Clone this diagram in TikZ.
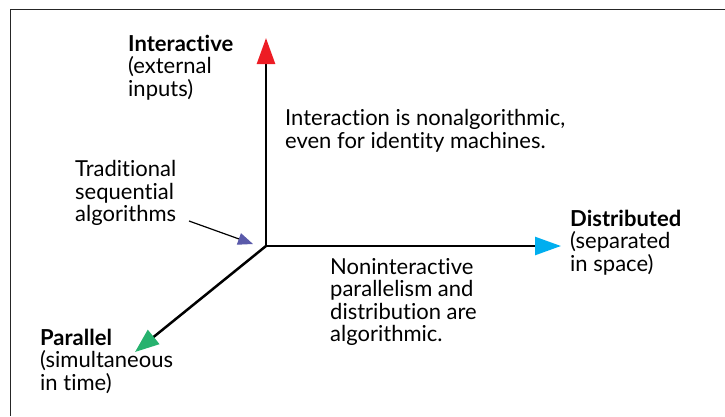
\documentclass[tikz,border=0pt]{standalone}
\usepackage{fontspec}
\setmainfont{Lato}[Ligatures=NoCommon]
\usetikzlibrary{arrows.meta}

\definecolor{tipred}{RGB}{237,28,36}
\definecolor{tipblue}{RGB}{0,174,239}
\definecolor{tipgreen}{RGB}{38,178,110}
\definecolor{tippurple}{RGB}{90,90,170}

\begin{document}
\begin{tikzpicture}[x=1pt,y=-1pt,
  lbl/.style={anchor=base west,align=left,inner sep=0pt,font=\fontsize{22}{22.5}\selectfont},
  axis/.style={line width=2.5pt}]
  \useasboundingbox (0,0) rectangle (725,416);
  \draw[line width=1.3pt,black!85] (725,9.5) -- (10.5,9.5) -- (10.5,416);

  \coordinate (origin) at (266,246);
  \coordinate (inter tip) at (266,38);
  \coordinate (dist tip) at (561,246);
  \coordinate (par tip) at (135,352);
  \coordinate (seq start) at (189,221);
  \coordinate (seq tip) at (253,244);

  \draw[axis,-{Triangle[length=26pt,width=18pt,color=tipred]}] (origin) -- (inter tip);
  \draw[axis,-{Triangle[length=26pt,width=18pt,color=tipblue]}] (origin) -- (dist tip);
  \draw[axis,-{Triangle[length=24pt,width=18pt,color=tipgreen]}] (origin) -- (par tip);
  \draw[line width=1.2pt,-{Triangle[length=15pt,width=12pt,color=tippurple]}] (seq start) -- (seq tip);

  % anchors sit on the last line of each label
  \node[lbl] (inter) at (128,96) {\textbf{Interactive}\\(external\\inputs)};
  \node[lbl] (dist) at (570,271) {\textbf{Distributed}\\(separated\\in space)};
  \node[lbl] (par) at (40,390) {\textbf{Parallel}\\(simultaneous\\in time)};
  \node[lbl] (seq) at (75,221.5) {Traditional\\sequential\\algorithms};
  \node[lbl] (nonalg) at (285,148) {Interaction is nonalgorithmic,\\even for identity machines.};
  \node[lbl] (alg) at (330,341.5) {Noninteractive\\parallelism and\\distribution are\\algorithmic.};
\end{tikzpicture}
\end{document}
